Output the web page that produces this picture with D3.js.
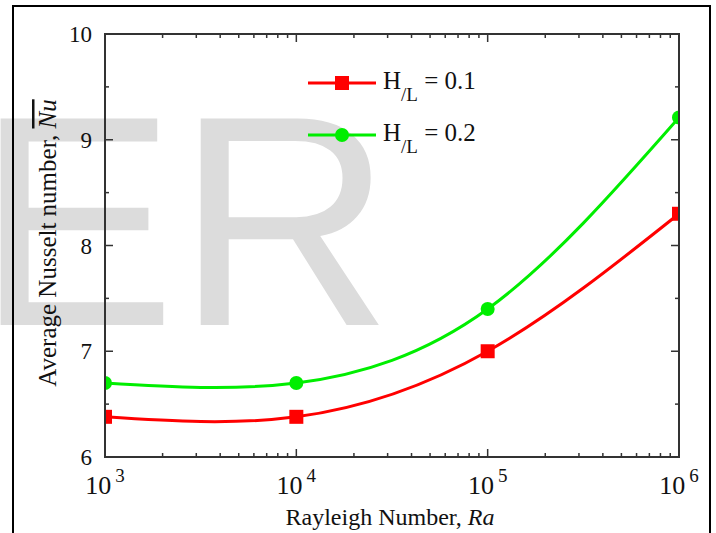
<!DOCTYPE html>
<html lang="en">
<head>
<meta charset="utf-8">
<title>Average Nusselt number vs Rayleigh number</title>
<script src="https://d3js.org/d3.v7.min.js"></script>
<style>
  body { margin: 0; background: #fff; }
  svg text { font-family: "Liberation Serif", "Times New Roman", serif; fill: #111; }
</style>
</head>
<body>
<script>
// data
var rayleigh = [1e3, 1e4, 1e5, 1e6];
var nuH01 = [6.38, 6.38, 7.0, 8.3];   // H/L = 0.1
var nuH02 = [6.7, 6.7, 7.4, 9.21];    // H/L = 0.2
var yTicks = [6, 7, 8, 9, 10];
var xTickExp = [3, 4, 5, 6];

var w = 716, h = 533;
// plot box (note: "top" is a reserved window prop, so use pl/pr/pt/pb)
var pl = 105, pr = 679, pt = 34, pb = 457;

var svg = d3.select("body").append("svg")
  .attr("width", w)
  .attr("height", h);

// watermark behind everything
svg.append("text")
  .attr("x", -24)
  .attr("y", 325)
  .style("font-family", "'Liberation Sans', Arial, sans-serif")
  .style("font-size", "300px")
  .style("fill", "#dcdcdc")
  .text("ER");

// outer frame
svg.append("rect")
  .attr("x", 13).attr("y", 6)
  .attr("width", 697).attr("height", 560)
  .attr("fill", "none")
  .attr("stroke", "#000")
  .attr("stroke-width", 2);

var x = d3.scaleLog().domain([1e3, 1e6]).range([pl, pr]);
var y = d3.scaleLinear().domain([6, 10]).range([pb, pt]);

var minorX = [];
for (var e = 3; e < 6; e++) {
  for (var k = 2; k <= 9; k++) minorX.push(k * Math.pow(10, e));
}
var minorY = d3.range(6.5, 10, 1);

var axisCol = "#333";
var ticks = svg.append("g").attr("stroke", axisCol).attr("stroke-width", 1.5);

// x ticks, bottom and top, inward
rayleigh.forEach(function(v) {
  ticks.append("line").attr("x1", x(v)).attr("x2", x(v)).attr("y1", pb).attr("y2", pb - 8);
  ticks.append("line").attr("x1", x(v)).attr("x2", x(v)).attr("y1", pt).attr("y2", pt + 8);
});
minorX.forEach(function(v) {
  ticks.append("line").attr("x1", x(v)).attr("x2", x(v)).attr("y1", pb).attr("y2", pb - 4);
  ticks.append("line").attr("x1", x(v)).attr("x2", x(v)).attr("y1", pt).attr("y2", pt + 4);
});
// y ticks, left and right, inward
yTicks.forEach(function(v) {
  ticks.append("line").attr("x1", pl).attr("x2", pl + 8).attr("y1", y(v)).attr("y2", y(v));
  ticks.append("line").attr("x1", pr).attr("x2", pr - 8).attr("y1", y(v)).attr("y2", y(v));
});
minorY.forEach(function(v) {
  ticks.append("line").attr("x1", pl).attr("x2", pl + 4).attr("y1", y(v)).attr("y2", y(v));
  ticks.append("line").attr("x1", pr).attr("x2", pr - 4).attr("y1", y(v)).attr("y2", y(v));
});

// clip for series
svg.append("clipPath").attr("id", "plotClip")
  .append("rect")
  .attr("x", pl).attr("y", pt)
  .attr("width", pr - pl).attr("height", pb - pt);

var series = [
  { name: "0.1", values: nuH01, color: "#ff0000", shape: "square" },
  { name: "0.2", values: nuH02, color: "#00ee00", shape: "circle" }
];

var line = d3.line()
  .x(function(d) { return x(d[0]); })
  .y(function(d) { return y(d[1]); })
  .curve(d3.curveNatural);

var plot = svg.append("g").attr("clip-path", "url(#plotClip)");

function drawMarker(g, shape, cx, cy, color) {
  if (shape === "square") {
    g.append("rect")
      .attr("x", cx - 7).attr("y", cy - 7)
      .attr("width", 14).attr("height", 14)
      .attr("fill", color);
  } else {
    g.append("circle")
      .attr("cx", cx).attr("cy", cy).attr("r", 7)
      .attr("fill", color);
  }
}

series.forEach(function(s) {
  var pts = rayleigh.map(function(r, i) { return [r, s.values[i]]; });
  plot.append("path")
    .datum(pts)
    .attr("d", line)
    .attr("fill", "none")
    .attr("stroke", s.color)
    .attr("stroke-width", 3);
  pts.forEach(function(p) {
    drawMarker(plot, s.shape, x(p[0]), y(p[1]), s.color);
  });
});

// frame of plot
svg.append("rect")
  .attr("x", pl).attr("y", pt)
  .attr("width", pr - pl).attr("height", pb - pt)
  .attr("fill", "none")
  .attr("stroke", axisCol)
  .attr("stroke-width", 2);

// y tick labels
svg.selectAll(".ylab")
  .data(yTicks)
  .enter().append("text")
  .attr("class", "ylab")
  .attr("x", 92)
  .attr("y", function(d) { return y(d) + 8; })
  .attr("text-anchor", "end")
  .style("font-size", "23px")
  .text(function(d) { return d; });

// x tick labels 10^n
xTickExp.forEach(function(e) {
  var t = svg.append("text")
    .attr("x", x(Math.pow(10, e)))
    .attr("y", 494)
    .attr("text-anchor", "middle")
    .style("font-size", "26px");
  t.append("tspan").text("10");
  t.append("tspan")
    .attr("dx", 4)
    .attr("dy", -12)
    .style("font-size", "19px")
    .text(e);
});

// axis titles
var xt = svg.append("text")
  .attr("x", 390)
  .attr("y", 525)
  .attr("text-anchor", "middle")
  .style("font-size", "24px");
xt.append("tspan").text("Rayleigh Number, ");
xt.append("tspan").style("font-style", "italic").text("Ra");

var yt = svg.append("text")
  .attr("transform", "translate(56,243) rotate(-90)")
  .attr("text-anchor", "middle")
  .style("font-size", "25px");
yt.append("tspan").text("Average Nusselt number, ");
yt.append("tspan")
  .style("font-style", "italic")
  .style("text-decoration", "overline")
  .text("Nu");

// legend
var legend = svg.append("g");
series.forEach(function(s, i) {
  var ly = 83 + i * 52;
  legend.append("line")
    .attr("x1", 308).attr("x2", 376)
    .attr("y1", ly).attr("y2", ly)
    .attr("stroke", s.color)
    .attr("stroke-width", 3);
  drawMarker(legend, s.shape, 342, ly, s.color);
  var t = legend.append("text")
    .attr("x", 383)
    .attr("y", ly + 6)
    .style("font-size", "25px");
  t.append("tspan").text("H");
  t.append("tspan")
    .attr("dy", 12)
    .style("font-size", "19px")
    .text("/L");
  t.append("tspan")
    .attr("dy", -12)
    .text(" = " + s.name);
});
</script>
</body>
</html>
